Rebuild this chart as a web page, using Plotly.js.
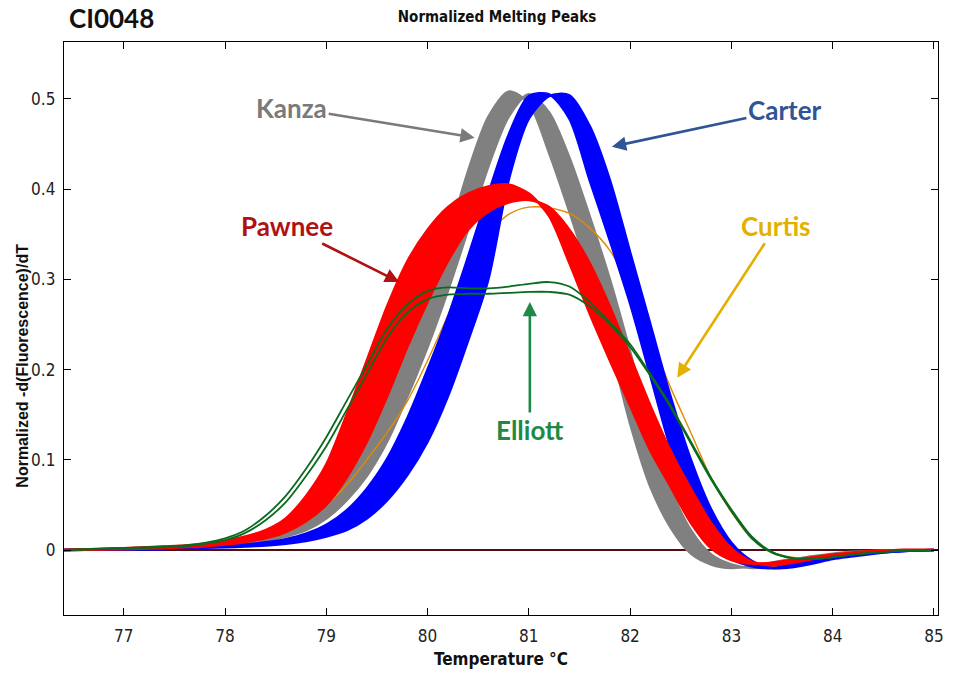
<!DOCTYPE html>
<html>
<head>
<meta charset="utf-8">
<script src="https://cdn.plot.ly/plotly-3.0.1.min.js"></script>
<style>html,body{margin:0;padding:0;background:#fff;}#chart{width:954px;height:677px;}</style>
</head>
<body>
<div id="chart"></div>
<script>
// Temperature grid (°C)
const temps = [76.4, 77.0, 77.4, 77.6, 77.8, 78.0, 78.2, 78.4, 78.6, 78.8,
               79.0, 79.2, 79.4, 79.6, 79.8, 80.0, 80.2, 80.4, 80.6, 80.8,
               81.0, 81.2, 81.4, 81.6, 81.8, 82.0, 82.2, 82.4, 82.6, 82.8,
               83.0, 83.2, 83.4, 83.6, 83.8, 84.0, 84.2, 84.4, 84.7, 85.0];

// Kanza (grey bundle): earliest and latest curves
const kanzaEarly = [0, .002, .003, .004, .005, .007, .010, .015, .022, .035,
                    .055, .083, .122, .170, .220, .275, .345, .420, .480, .508,
                    .495, .440, .375, .305, .228, .140, .070, .025, -.004, -.016,
                    -.020, -.018, -.014, -.010, -.007, -.004, -.002, -.001, 0, 0];
const kanzaLate = [0, .001, .002, .003, .004, .005, .007, .010, .015, .022,
                   .035, .055, .082, .120, .170, .225, .287, .355, .425, .480,
                   .505, .485, .435, .370, .300, .220, .135, .068, .022, -.005,
                   -.016, -.020, -.018, -.014, -.010, -.007, -.004, -.002, -.001, 0];

// Carter (blue bundle)
const carterEarly = [0, .001, .002, .003, .0035, .0045, .006, .0085, .012, .018,
                     .028, .044, .068, .101, .146, .200, .258, .325, .395, .460,
                     .503, .505, .478, .410, .343, .273, .193, .113, .052, .012,
                     -.010, -.018, -.020, -.016, -.012, -.0085, -.0055, -.003, -.001, 0];
const carterLate = [0, .0005, .001, .002, .0025, .003, .004, .005, .007, .010,
                    .015, .022, .035, .055, .083, .120, .170, .232, .300, .410,
                    .478, .503, .504, .470, .410, .330, .250, .170, .100, .045,
                    .008, -.012, -.020, -.019, -.015, -.010, -.007, -.004, -.001, 0];

// Pawnee (red bundle)
const pawneeEarly = [0, .002, .004, .005, .007, .010, .015, .022, .035, .060,
                     .095, .150, .210, .270, .320, .355, .380, .395, .403, .405,
                     .395, .370, .318, .262, .210, .160, .110, .070, .030, .002,
                     -.011, -.015, -.014, -.011, -.008, -.005, -.003, -.001, 0, 0];
const pawneeLate = [0, .001, .002, .003, .004, .006, .009, .013, .020, .032,
                    .050, .080, .120, .170, .225, .275, .320, .355, .375, .385,
                    .388, .380, .355, .318, .270, .215, .160, .110, .068, .030,
                    .002, -.013, -.017, -.014, -.010, -.006, -.003, -.001, 0, 0];

// Curtis (single orange curve)
const curtis = [0, .001, .002, .003, .004, .006, .009, .014, .022, .035,
                .050, .072, .100, .130, .165, .210, .260, .310, .350, .372,
                .380, .379, .373, .357, .332, .290, .235, .180, .130, .080,
                .042, .013, -.002, -.008, -.009, -.007, -.005, -.003, -.001, 0];

// Elliott (two green curves)
const elliottUpper = [0, .002, .004, .005, .008, .013, .022, .038, .060, .090,
                      .125, .165, .205, .245, .272, .287, .291, .290, .290, .292,
                      .295, .297, .292, .275, .252, .228, .195, .160, .120, .080,
                      .045, .015, -.002, -.009, -.010, -.008, -.005, -.003, -.001, 0];
const elliottLower = [0, .002, .003, .004, .007, .011, .019, .033, .053, .082,
                      .115, .155, .195, .235, .263, .278, .283, .284, .284, .285,
                      .286, .286, .283, .270, .250, .225, .193, .158, .118, .078,
                      .043, .013, -.003, -.009, -.010, -.008, -.005, -.003, -.001, 0];

const yTicks = [0, 0.1, 0.2, 0.3, 0.4, 0.5];
const yTickText = ['0', '0.1', '0.2', '0.3', '0.4', '0.5'];
const xTicks = [77, 78, 79, 80, 81, 82, 83, 84, 85];

function line(y, color, width, fill) {
  const t = {x: temps, y: y, type: 'scatter', mode: 'lines',
             line: {color: color, width: width, shape: 'spline', smoothing: 0.8},
             hoverinfo: 'skip', showlegend: false};
  if (fill) { t.fill = 'tonexty'; t.fillcolor = color; }
  return t;
}

const data = [
  line(kanzaEarly, '#808080', 2.5, false),
  line(kanzaLate, '#808080', 2.5, true),
  line(curtis, '#e08a00', 1.4, false),
  line(carterEarly, '#0000ff', 2.5, false),
  line(carterLate, '#0000ff', 2.5, true),
  line(pawneeEarly, '#ff0000', 2.5, false),
  line(pawneeLate, '#ff0000', 2.5, true),
  line(elliottUpper, '#0a6a1e', 1.8, false),
  line(elliottLower, '#0a6a1e', 1.8, false)
];

const narrow = 'Liberation Sans Narrow, DejaVu Sans Condensed, Arial Narrow, sans-serif';
const lab = 'Lato, Liberation Sans, Arial, sans-serif';

function label(text, color, x, y, ax, ay) {
  return {text: text, x: x, y: y, xref: 'x', yref: 'y',
          ax: ax, ay: ay, showarrow: true, arrowhead: 2, arrowsize: 1.1,
          arrowwidth: 2.6, arrowcolor: color, font: {family: lab, size: 26, color: color, weight: 'bold'}};
}

const layout = {
  width: 954, height: 677,
  margin: {l: 64, r: 16, t: 42, b: 62},
  paper_bgcolor: '#ffffff', plot_bgcolor: '#ffffff',
  title: {text: 'Normalized Melting Peaks', x: 0.521, xref: 'container', y: 0.975, yref: 'container',
          xanchor: 'center', yanchor: 'middle', font: {family: narrow, size: 15, color: '#111', weight: 'bold'}},
  xaxis: {range: [76.41, 85.04], tickvals: xTicks, ticks: 'inside', ticklen: 7, tickcolor: '#000',
          showline: true, linecolor: '#000', linewidth: 1.2, mirror: 'ticks', showgrid: false, zeroline: false,
          tickfont: {family: narrow, size: 17, color: '#222'}, ticklabelstandoff: 5,
          title: {text: 'Temperature °C', font: {family: narrow, size: 17, color: '#111', weight: 'bold'}, standoff: 8}},
  yaxis: {range: [-0.072, 0.563], tickvals: yTicks, ticktext: yTickText, ticks: 'inside', ticklen: 7, tickcolor: '#000',
          showline: true, linecolor: '#000', linewidth: 1.2, mirror: 'ticks', showgrid: false,
          zeroline: true, zerolinecolor: '#4d0f0f', zerolinewidth: 2,
          tickfont: {family: narrow, size: 17, color: '#222'}, ticklabelstandoff: 4},
  annotations: [
    {text: 'CI0048', xref: 'paper', yref: 'paper', x: 0.003, y: 1.042, xanchor: 'left', yanchor: 'middle',
     showarrow: false, font: {family: lab, size: 26, color: '#111', weight: 'bold'}},
    {text: 'Normalized -d(Fluorescence)/dT', xref: 'paper', yref: 'paper', x: -0.047, y: 0.435,
     xanchor: 'center', yanchor: 'middle', textangle: -90, showarrow: false,
     font: {family: 'Liberation Sans, Arial, sans-serif', size: 16, color: '#111', weight: 'bold'}},
    label('Kanza', '#7a7a7a', 80.465, 0.457, -183, -30),
    label('Carter', '#2f5597', 81.82, 0.447, 173, -37),
    label('Pawnee', '#b01212', 79.72, 0.297, -112, -56),
    label('Curtis', '#e3b000', 82.465, 0.191, 99, -152),
    label('Elliott', '#1e8a45', 81.01, 0.275, 0, 128)
  ]
};

Plotly.newPlot('chart', data, layout, {staticPlot: true, displayModeBar: false});
</script>
</body>
</html>
